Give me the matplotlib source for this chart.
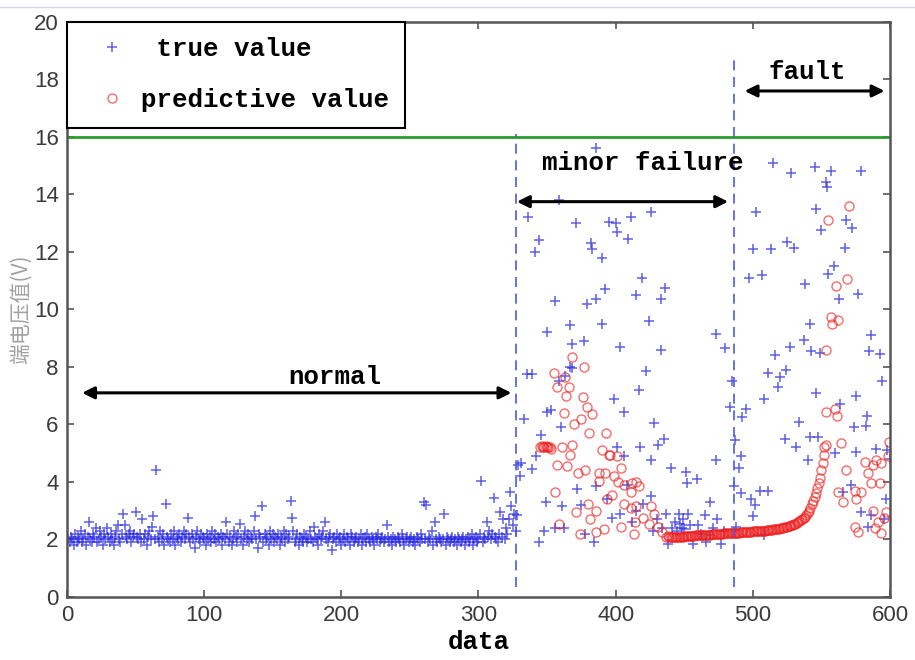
"""Fault-stage scatter: measured vs predicted values with region annotations."""

import matplotlib

matplotlib.use("Agg")
import matplotlib.pyplot as plt
import numpy as np
from matplotlib.lines import Line2D

# measured values, one per sample, x = 1..326 (normal operation)
normal_true = [
    2.0, 1.9, 2.1, 2.0, 1.8, 2.2, 1.9, 2.1, 2.0, 2.3,
    1.9, 2.0, 2.2, 1.8, 2.1, 2.6, 2.0, 1.9, 2.2, 2.1,
    2.4, 1.9, 2.0, 2.3, 2.1, 1.8, 2.2, 2.0, 2.4, 2.1,
    1.9, 2.2, 2.0, 1.8, 2.1, 2.3, 2.5, 2.0, 1.9, 2.2,
    2.9, 2.5, 2.1, 2.0, 2.2, 2.3, 1.9, 2.1, 2.2, 2.95,
    2.1, 2.0, 2.2, 1.9, 2.7, 2.0, 2.2, 1.8, 2.1, 2.3,
    2.0, 2.45, 2.8, 2.0, 4.4, 2.1, 1.9, 2.3, 2.0, 2.2,
    1.8, 3.25, 2.1, 2.0, 1.9, 2.2, 2.0, 2.3, 1.8, 2.1,
    2.0, 2.2, 1.9, 2.1, 2.3, 2.0, 2.2, 2.75, 2.1, 1.9,
    2.2, 2.0, 1.7, 2.1, 2.3, 2.0, 1.9, 2.2, 2.1, 2.0,
    1.8, 2.2, 2.0, 2.1, 1.9, 2.3, 2.0, 2.2, 1.9, 2.1,
    2.0, 2.2, 1.8, 2.1, 2.0, 2.6, 2.2, 1.9, 2.1, 1.8,
    2.0, 2.3, 2.1, 1.9, 2.2, 2.55, 2.0, 1.8, 2.1, 2.3,
    2.0, 2.2, 1.9, 2.1, 2.0, 2.3, 2.8, 2.0, 1.7, 2.2,
    2.1, 3.15, 1.9, 2.2, 2.0, 2.1, 1.8, 2.3, 2.0, 2.2,
    1.9, 2.1, 2.0, 2.2, 1.8, 2.1, 2.0, 2.3, 1.9, 2.2,
    2.0, 2.1, 3.35, 2.75, 2.3, 1.9, 2.0, 2.2, 1.8, 2.1,
    2.0, 1.9, 2.2, 2.1, 1.9, 2.0, 2.3, 2.0, 1.9, 2.45,
    2.1, 2.0, 1.8, 2.2, 2.0, 2.1, 2.3, 2.6, 2.0, 1.9,
    2.1, 2.2, 1.65, 2.0, 2.1, 1.9, 2.2, 2.0, 2.1, 1.8,
    2.0, 2.2, 1.9, 2.1, 2.0, 1.8, 2.2, 2.1, 1.9, 2.0,
    2.1, 1.9, 2.0, 2.2, 1.8, 2.0, 2.1, 1.9, 2.2, 2.0,
    1.9, 2.1, 2.0, 1.8, 2.1, 2.0, 2.2, 1.9, 2.0, 2.1,
    1.9, 2.0, 2.5, 2.1, 1.9, 2.0, 1.8, 2.1, 2.0, 1.9,
    2.1, 2.0, 1.9, 2.2, 2.0, 1.8, 2.0, 2.1, 1.9, 2.0,
    2.1, 1.9, 2.0, 1.8, 2.1, 2.0, 1.9, 2.2, 2.0, 3.3,
    2.0, 3.2, 1.9, 2.1, 2.0, 2.3, 1.8, 2.6, 2.0, 1.9,
    2.1, 2.0, 1.9, 2.0, 2.9, 1.8, 2.1, 2.0, 1.9, 2.0,
    2.1, 1.9, 2.0, 1.8, 2.1, 2.0, 1.9, 2.0, 2.1, 1.8,
    2.0, 2.1, 1.9, 2.0, 2.2, 1.8, 2.0, 2.1, 1.9, 2.0,
    2.2, 4.05, 1.9, 2.1, 2.0, 2.6, 2.1, 2.3, 2.0, 2.2,
    3.45, 2.1, 2.0, 1.9, 2.2, 2.95, 2.1, 2.7, 2.0, 2.4,
    2.2, 2.7, 3.65, 3.15, 2.5, 2.9,
]

# measured values after the fault starts (sample, value)
abnormal_true = [
    (327, 2.3), (328, 2.85), (329, 4.6), (330, 4.2), (331, 4.65), (333, 6.2),
    (335, 7.75), (336, 13.2), (339, 7.75), (339, 4.45), (341, 12.0), (342, 4.9),
    (344, 12.4), (344, 1.9), (345.5, 5.65), (347.6, 2.3), (349, 3.3), (350, 9.2),
    (350, 6.45), (353, 6.5), (355.6, 10.3), (356, 2.4), (358.5, 13.8), (358.5, 7.5),
    (360, 5.9), (361, 3.15), (362, 2.4), (363, 7.7), (366.5, 9.45), (367, 8.0),
    (368, 8.8), (368, 7.95), (371, 13.0), (372, 3.75), (374.5, 3.2), (377, 8.9),
    (378, 2.2), (379, 10.2), (382, 12.3), (383, 12.1), (384, 1.9), (385.5, 15.6),
    (386, 10.35), (386, 3.85), (390, 11.8), (390, 9.5), (392, 10.7), (393.5, 3.4),
    (395, 13.05), (397, 2.75), (398.5, 6.9), (400, 13.0), (401, 12.7), (401, 5.2),
    (403.5, 8.7), (403.5, 2.9), (406, 6.45), (406, 4.9), (408, 3.9), (409, 12.45),
    (411, 13.2), (412, 2.6), (414.5, 10.5), (415, 3.0), (417, 7.2), (418, 5.2),
    (419, 11.1), (420, 3.25), (422, 7.85), (424, 9.6), (425.5, 4.75), (425.5, 3.5),
    (426, 13.4), (427, 2.3), (428, 6.05), (430, 2.7), (431, 5.3), (433, 10.35),
    (433, 8.6), (434, 2.4), (435, 5.5), (436, 10.75), (437, 2.9), (438.5, 1.85),
    (440, 4.5), (441, 2.4), (443, 2.6), (445, 2.3), (446, 2.9), (447, 2.55),
    (448, 2.4), (449, 2.7), (450, 2.35), (451, 4.35), (452, 3.95), (453, 2.9),
    (454, 2.5), (456.7, 1.85), (459, 4.1), (460, 2.5), (462, 2.2), (465, 2.85),
    (466, 1.9), (469, 3.3), (469, 2.15), (471, 2.4), (473, 4.75), (473, 9.15),
    (474, 2.7), (477, 1.85), (479, 2.3), (480, 8.65), (483.5, 6.6), (484.5, 7.5),
    (486.6, 3.85), (487, 5.45), (488, 2.45), (490, 4.5), (491, 3.6), (491.6, 4.9),
    (492, 6.25), (495, 6.55), (497, 11.1), (499, 3.4), (500, 2.8), (500.4, 12.1),
    (501.5, 3.2), (502, 13.4), (505, 3.7), (507, 11.2), (508, 6.9), (508, 2.15),
    (511, 7.8), (511, 3.7), (513, 12.1), (515, 15.1), (516, 8.4), (518.5, 7.3),
    (520, 7.65), (523.6, 5.5), (524, 7.9), (525, 12.35), (527, 8.7), (528, 14.75),
    (530, 12.15), (531.6, 5.2), (534, 6.1), (537, 8.95), (538, 10.9), (540, 4.75),
    (542, 9.5), (542, 5.55), (542.5, 8.55), (545, 14.95), (546, 13.5), (546, 7.1),
    (547.6, 5.55), (549, 8.5), (550, 12.75), (553, 14.45), (554, 14.25), (555, 11.25),
    (557, 14.8), (559, 11.5), (560, 5.0), (563, 10.35), (563.6, 6.7), (566, 3.65),
    (567, 12.15), (568, 13.1), (571.6, 3.9), (572, 12.85), (574, 5.9), (575, 7.0),
    (575, 5.05), (577, 10.55), (579, 14.8), (579, 2.95), (582.5, 5.95), (583, 6.3),
    (584, 2.45), (584.5, 8.55), (586, 9.1), (586, 2.85), (590, 5.15), (593, 8.45),
    (594, 7.5), (595.6, 2.7), (597, 3.4), (598, 5.1), (600, 4.8),
]

# predicted values: scattered part (sample, value)
pred_scatter = [
    (345, 5.2), (346, 5.25), (347, 5.2), (348, 5.22), (349, 5.25), (350, 5.2),
    (351, 5.23), (352, 5.2), (353, 5.15), (355, 7.8), (355.6, 3.65), (357, 7.3),
    (357, 4.6), (358.5, 2.55), (360.6, 5.2), (362, 6.4), (363, 7.65), (363.6, 7.0),
    (364.4, 4.55), (366, 7.3), (366.5, 4.95), (368, 8.35), (368, 5.3), (369.5, 6.0),
    (370.9, 2.95), (372.4, 4.3), (373.8, 2.2), (374.5, 6.2), (376, 6.95), (376.7, 8.0),
    (378, 4.4), (379, 6.6), (379.6, 3.25), (380.4, 5.7), (381.6, 2.7), (382.5, 6.35),
    (385.5, 3.0), (385.5, 2.25), (387.6, 4.3), (387.6, 4.05), (390, 5.1), (391.3, 2.35),
    (392.5, 4.3), (392.7, 5.7), (393.5, 3.4), (395, 4.95), (396, 4.95), (397, 3.55),
    (398.5, 4.2), (400.7, 4.9), (402, 4.0), (403.6, 2.45), (404, 4.5), (405.8, 3.9),
    (405.8, 3.25), (410.9, 3.1), (411, 3.65), (411.7, 3.95), (413, 2.2), (413.8, 2.6),
    (414.5, 3.15), (414.5, 4.0), (416.7, 3.85), (420, 2.75), (424, 2.55), (425.5, 3.15),
    (427.6, 2.9), (430.5, 2.45), (433.5, 2.25), (437, 2.1),
    (552, 5.2), (553.5, 6.45), (553.5, 8.6), (555, 13.1), (557, 9.75), (558, 9.5),
    (560, 6.55), (560.7, 10.8), (561, 6.3), (562, 9.65), (562, 3.65), (564.6, 5.35),
    (565.8, 3.3), (568, 4.4), (568.7, 11.05), (570, 13.6), (574.5, 3.7), (574.5, 2.45),
    (575, 3.4), (576.7, 2.27), (579, 3.65), (581.6, 4.7), (584, 4.3), (586, 3.95),
    (587.6, 4.6), (587.6, 3.0), (589, 2.4), (590, 4.75), (591, 2.6), (592.7, 3.95),
    (593.6, 4.65), (593.6, 2.23), (595.6, 2.75), (597, 2.95), (598.5, 4.9), (599, 5.4),
]

# predicted values along the smooth stretch, samples 438..553
pred_curve_start = 438
pred_curve = [
    2.12, 2.10, 2.08, 2.07, 2.07, 2.08, 2.08, 2.09,
    2.09, 2.10, 2.10, 2.10, 2.11, 2.11, 2.12, 2.12, 2.12, 2.13, 2.13, 2.13, 2.14, 2.14, 2.14,
    2.15, 2.15, 2.15, 2.16, 2.16, 2.16, 2.17, 2.17, 2.17, 2.18, 2.18, 2.18, 2.19, 2.19, 2.19,
    2.20, 2.20, 2.20, 2.21, 2.21,
    2.21, 2.22, 2.22, 2.22, 2.23, 2.23, 2.23, 2.24, 2.24, 2.24, 2.25, 2.25, 2.25, 2.26, 2.26,
    2.26, 2.27, 2.27, 2.27, 2.28,
    2.28, 2.28, 2.29, 2.29, 2.30, 2.30, 2.30, 2.31, 2.31, 2.32, 2.32, 2.33, 2.33, 2.34, 2.35,
    2.35, 2.36, 2.37, 2.38, 2.39,
    2.40, 2.41, 2.42, 2.43, 2.44, 2.46, 2.47, 2.49, 2.51, 2.53, 2.55, 2.57, 2.60, 2.63, 2.66,
    2.70, 2.74, 2.79, 2.85, 2.92,
    3.00, 3.10, 3.22, 3.35, 3.48, 3.62, 3.78, 3.95, 4.15, 4.40, 4.65, 4.95, 5.30,
]

threshold = 16
stage_bounds = [327, 486]
stage_labels = ["normal", "minor failure", "fault"]

x_true = np.concatenate([np.arange(1, len(normal_true) + 1), [p[0] for p in abnormal_true]])
y_true = np.concatenate([normal_true, [p[1] for p in abnormal_true]])
x_pred = np.concatenate([[p[0] for p in pred_scatter],
                         np.arange(pred_curve_start, pred_curve_start + len(pred_curve))])
y_pred = np.concatenate([[p[1] for p in pred_scatter], pred_curve])

mono = ["Liberation Mono", "DejaVu Sans Mono"]

fig = plt.figure(figsize=(9.15, 6.6), dpi=100)
ax = fig.add_axes([0.0732, 0.0955, 0.8995, 0.8712])

true_line, = ax.plot(x_true, y_true, "+", color="#2a2ae0", alpha=0.75,
                     markersize=7, markeredgewidth=1.1, label=" true value")
pred_line, = ax.plot(x_pred, y_pred, "o", markerfacecolor="none", markeredgecolor="#ee2020",
                     alpha=0.65, markersize=6.5, markeredgewidth=1.0, label="predictive value")

ax.axhline(threshold, color="#2e9a2e", linewidth=2)
ax.plot([stage_bounds[0]] * 2, [0.35, 16.1], "--", color="#4a5ae0", linewidth=1.2, dashes=(6, 4))
ax.plot([stage_bounds[1]] * 2, [0.35, 18.8], "--", color="#4a5ae0", linewidth=1.2, dashes=(6, 4))

arrow = dict(arrowstyle="<|-|>", color="black", lw=2.2, mutation_scale=18, shrinkA=0, shrinkB=0)
ax.annotate("", xy=(11, 7.1), xytext=(324, 7.1), arrowprops=arrow)
ax.annotate("", xy=(328, 13.75), xytext=(482, 13.75), arrowprops=arrow)
ax.annotate("", xy=(494, 17.6), xytext=(596, 17.6), arrowprops=arrow)
text_style = dict(family=mono, fontsize=18.5, fontweight="bold", ha="center", va="center")
ax.text(195, 7.65, stage_labels[0], **text_style)
ax.text(420, 15.1, stage_labels[1], **text_style)
ax.text(540, 18.25, stage_labels[2], **text_style)

ax.set_xlim(0, 600)
ax.set_ylim(0, 20)
ax.set_xticks(range(0, 601, 100))
ax.set_yticks(range(0, 21, 2))
ax.tick_params(direction="in", length=5, width=1.2, top=True, right=True,
               labelsize=16, labelcolor="#3a3a3a", color="#555555", pad=6)
for label in ax.get_xticklabels() + ax.get_yticklabels():
    label.set_family("Liberation Sans")
for spine in ax.spines.values():
    spine.set_color("#555555")
    spine.set_linewidth(1.8)

ax.set_xlabel("data", family=mono, fontsize=18.5, fontweight="bold", labelpad=3)
ax.set_ylabel("端电压值(V)", family=["Noto Sans CJK SC", "DejaVu Sans"], fontsize=15,
              color="#a0a0a0", labelpad=1)

legend = ax.legend(handles=[true_line, pred_line], loc="upper left", bbox_to_anchor=(0, 1),
                   borderaxespad=0, fancybox=False, framealpha=1, edgecolor="black",
                   prop={"family": mono, "size": 18.5, "weight": "bold"},
                   handlelength=2.3, handletextpad=0.0, borderpad=0.6, labelspacing=1.05)
legend.get_frame().set_linewidth(1.5)

fig.add_artist(Line2D([0, 1], [0.99, 0.99], transform=fig.transFigure, color="#d4d4ec", lw=1))

fig.savefig("out.png", dpi=100)
